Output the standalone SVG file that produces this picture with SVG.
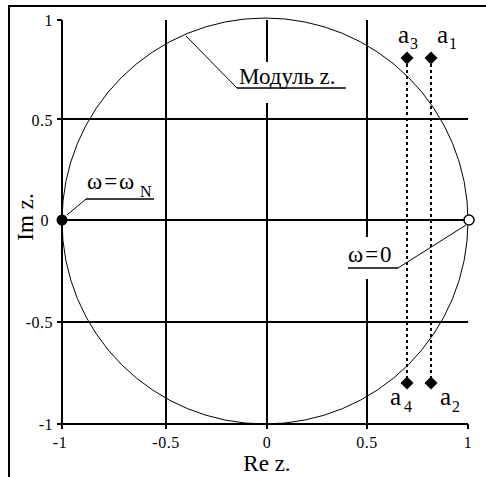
<svg xmlns="http://www.w3.org/2000/svg" width="486" height="477" viewBox="0 0 486 477">
<style>
.ax{stroke:#000;stroke-width:2;fill:none}
.thin{stroke:#000;stroke-width:1;fill:none}
.ul{stroke:#000;stroke-width:1.5;fill:none}
.dot{stroke:#000;stroke-width:2;stroke-dasharray:3 3;fill:none}
.tk{font-family:"Liberation Serif","Times New Roman",serif;font-size:16px;fill:#000;letter-spacing:0.5px}
.lb{font-family:"Liberation Serif","Times New Roman",serif;font-size:23px;fill:#000}
.om{letter-spacing:2px}
.al{font-family:"Liberation Serif","Times New Roman",serif;font-size:25px;fill:#000}
.sb{font-family:"Liberation Serif","Times New Roman",serif;font-size:16px;fill:#000}
</style>
<defs>
<path id="dia" d="M0,-6.5 L6.5,0 L0,6.5 L-6.5,0 Z" fill="#000"/>
</defs>
<rect x="0" y="0" width="486" height="477" fill="#fff"/>
<path class="ax" d="M9,490 V6 H500"/>
<g id="grid">
<path class="ax" d="M62,20 V424 H468"/>
<path class="ax" d="M57,20 H62 M57,119 H468 M57,220 H466 M57,322 H468 M57,424 H62"/>
<path class="ax" d="M166,20 V429 M267,20 V62 M267,103 V429 M367,20 V237 M367,279 V429 M62,424 V429 M468,424 V429"/>
</g>
<g id="circle">
<ellipse class="thin" cx="265" cy="221" rx="203" ry="203"/>
</g>
<g id="ticks">
<text class="tk" x="53" y="26" text-anchor="end">1</text>
<text class="tk" x="53" y="126" text-anchor="end">0.5</text>
<text class="tk" x="49" y="226" text-anchor="end">0</text>
<text class="tk" x="53" y="328" text-anchor="end">-0.5</text>
<text class="tk" x="53" y="430" text-anchor="end">-1</text>
<text class="tk" x="60" y="448" text-anchor="middle">-1</text>
<text class="tk" x="166" y="448" text-anchor="middle">-0.5</text>
<text class="tk" x="267" y="448" text-anchor="middle">0</text>
<text class="tk" x="367" y="448" text-anchor="middle">0.5</text>
<text class="tk" x="468" y="448" text-anchor="middle">1</text>
</g>
<g id="axis-labels">
<text class="lb" x="267" y="471" text-anchor="middle">Re z.</text>
<text class="lb" transform="translate(33,217) rotate(-90)" text-anchor="middle">Im z.</text>
</g>
<g id="connectors">
<path class="thin" d="M237,88 L186,36"/>
<path class="ul" d="M237,88 H346"/>
<path class="thin" d="M86,199 L67,215"/>
<path class="ul" d="M86,199 H154"/>
<path class="thin" d="M398,268 L466,225"/>
<path class="ul" d="M348,268 H398"/>
<path class="dot" d="M407,64 V378"/>
<path class="dot" d="M431,64 V378"/>
</g>
<g id="modulus-label">
<text class="lb" x="239" y="84">Модуль z.</text>
</g>
<g id="omega-N">
<circle cx="62" cy="220" r="5.5" fill="#000"/>
<text class="lb om" x="87" y="189">ω=ω</text>
<text class="sb" x="140" y="197">N</text>
</g>
<g id="omega-0">
<circle cx="469" cy="220" r="5" fill="#fff" stroke="#000" stroke-width="1.5"/>
<text class="lb om" x="348" y="262">ω=0</text>
</g>
<g id="a1">
<use href="#dia" x="431" y="58"/>
<text class="al" x="437" y="43">a</text>
<text class="sb" x="449" y="49">1</text>
</g>
<g id="a2">
<use href="#dia" x="431" y="383"/>
<text class="al" x="440" y="405">a</text>
<text class="sb" x="452" y="412">2</text>
</g>
<g id="a3">
<use href="#dia" x="407" y="58"/>
<text class="al" x="398" y="43">a</text>
<text class="sb" x="410" y="49">3</text>
</g>
<g id="a4">
<use href="#dia" x="407" y="383"/>
<text class="al" x="390" y="405">a</text>
<text class="sb" x="404" y="412">4</text>
</g>
</svg>
